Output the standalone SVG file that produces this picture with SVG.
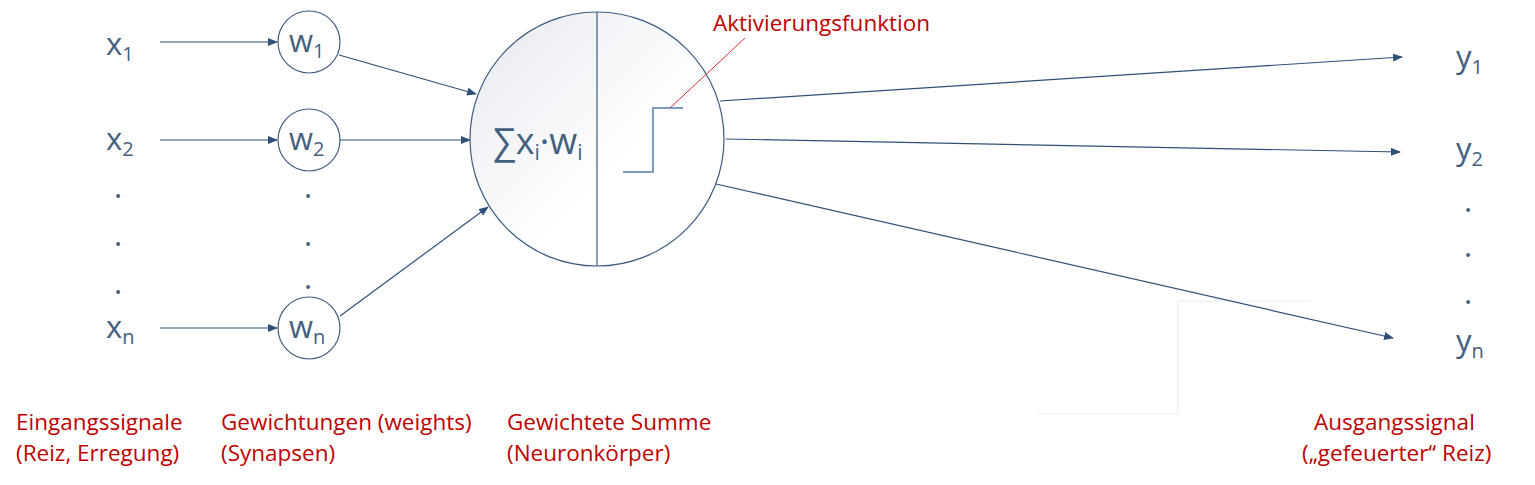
<svg xmlns="http://www.w3.org/2000/svg" width="1535" height="485" viewBox="0 0 1535 485">
<style>
.lbl{font-family:"Open Sans","Liberation Sans",sans-serif;fill:#44607f}
.var{font-size:31px}
.sub{font-size:20px}
.red{font-family:"Open Sans","Liberation Sans",sans-serif;font-size:22.5px;fill:#c00000}
.ln{stroke:#2e5077;stroke-width:1.2;fill:none}
.wc{fill:#fff;stroke:#3d5c80;stroke-width:1.2}
</style>
<defs>
<marker id="ah" markerWidth="10" markerHeight="8" refX="9" refY="4" orient="auto" markerUnits="userSpaceOnUse"><path d="M0,0 L10,4 L0,8 z" fill="#2e5077"/></marker>
<linearGradient id="g" x1="0" y1="0" x2="1" y2="1"><stop offset="0" stop-color="#e6e9ef"/><stop offset="0.6" stop-color="#ffffff"/></linearGradient>
</defs>
<path d="M1037,414 H1178 V301 H1310" stroke="#eef2f8" stroke-width="1.5" fill="none"/>
<g id="connectors">
<line class="ln" x1="160" y1="42" x2="277" y2="42" marker-end="url(#ah)"/>
<line class="ln" x1="160" y1="140" x2="277" y2="140" marker-end="url(#ah)"/>
<line class="ln" x1="160" y1="328" x2="277" y2="328" marker-end="url(#ah)"/>
<line class="ln" x1="339" y1="55" x2="476" y2="94" marker-end="url(#ah)"/>
<line class="ln" x1="340" y1="140" x2="470" y2="140" marker-end="url(#ah)"/>
<line class="ln" x1="340" y1="316" x2="488" y2="207" marker-end="url(#ah)"/>
<line class="ln" x1="720" y1="101" x2="1402" y2="57" marker-end="url(#ah)"/>
<line class="ln" x1="726" y1="139" x2="1400" y2="152" marker-end="url(#ah)"/>
<line class="ln" x1="716" y1="184" x2="1393" y2="338" marker-end="url(#ah)"/>
</g>
<g id="inputs">
<text class="lbl var" x="106" y="55">x<tspan class="sub" dy="6">1</tspan></text>
<text class="lbl var" x="106" y="150">x<tspan class="sub" dy="6">2</tspan></text>
<text class="lbl var" x="106" y="338">x<tspan class="sub" dy="6">n</tspan></text>
<text class="lbl var" x="114" y="198">.</text>
<text class="lbl var" x="114" y="246">.</text>
<text class="lbl var" x="114" y="294">.</text>
</g>
<g id="w1"><circle class="wc" cx="309" cy="42" r="31"/><text class="lbl var" x="289" y="52">w<tspan class="sub" dy="6">1</tspan></text></g>
<g id="w2"><circle class="wc" cx="309" cy="140" r="31"/><text class="lbl var" x="289" y="150">w<tspan class="sub" dy="6">2</tspan></text></g>
<g id="wn"><circle class="wc" cx="309" cy="328" r="31"/><text class="lbl var" x="289" y="338">w<tspan class="sub" dy="6">n</tspan></text></g>
<g id="wdots">
<text class="lbl var" x="304" y="198">.</text>
<text class="lbl var" x="304" y="246">.</text>
<text class="lbl var" x="304" y="289">.</text>
</g>
<g id="neuron">
<circle cx="597" cy="139" r="127" fill="url(#g)" stroke="#3d5c80" stroke-width="1.2"/>
<line x1="597" y1="12" x2="597" y2="266" stroke="#3d5c80" stroke-width="1.2"/>
<text class="lbl" x="493" y="154" font-size="36">∑x<tspan font-size="21" dy="6">i</tspan><tspan dy="-6">·w</tspan><tspan font-size="21" dy="6">i</tspan></text>
<path d="M623,172 H653 V108 H683" stroke="#7f9cc0" stroke-width="2" fill="none"/>
<line x1="670" y1="108" x2="745" y2="38" stroke="#e03030" stroke-width="1"/>
</g>
<g id="outputs">
<text class="lbl var" x="1456" y="68">y<tspan class="sub" dy="6">1</tspan></text>
<text class="lbl var" x="1456" y="160">y<tspan class="sub" dy="6">2</tspan></text>
<text class="lbl var" x="1456" y="352">y<tspan class="sub" dy="6">n</tspan></text>
<text class="lbl var" x="1464" y="212">.</text>
<text class="lbl var" x="1464" y="257">.</text>
<text class="lbl var" x="1464" y="304">.</text>
</g>
<g id="labels">
<text class="red" x="713" y="31">Aktivierungsfunktion</text>
<text class="red" x="16" y="430">Eingangssignale</text>
<text class="red" x="16" y="461">(Reiz, Erregung)</text>
<text class="red" x="221" y="430">Gewichtungen (weights)</text>
<text class="red" x="221" y="461">(Synapsen)</text>
<text class="red" x="507" y="430">Gewichtete Summe</text>
<text class="red" x="507" y="461">(Neuronkörper)</text>
<text class="red" x="1314" y="430">Ausgangssignal</text>
<text class="red" x="1302" y="461">(„gefeuerter“ Reiz)</text>
</g>
</svg>
